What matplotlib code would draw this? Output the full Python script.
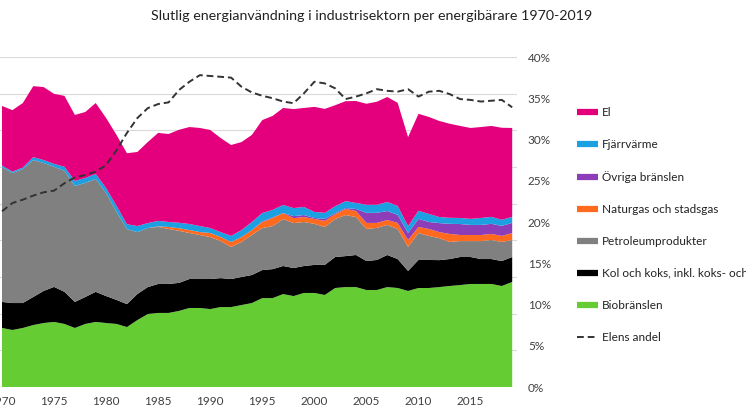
import numpy as np
import matplotlib
matplotlib.use("Agg")
from matplotlib import pyplot as plt
from matplotlib.lines import Line2D
from matplotlib.ticker import FuncFormatter

plt.rcParams['font.family'] = ['Lato', 'DejaVu Sans']

# År 1970-2019
years = np.arange(1970, 2020)

# Slutlig energianvändning per energibärare (TWh)
biobransle = [32.2, 31.1, 32.2, 33.8, 34.9, 35.5, 34.4, 32.2, 34.4, 35.5,
              34.9, 34.4, 32.7, 36.5, 39.8, 40.4, 40.4, 41.5, 43.1, 43.1,
              42.5, 43.6, 43.6, 44.7, 45.8, 48.5, 48.5, 50.7, 49.6, 51.3,
              51.3, 50.2, 54.0, 54.5, 54.5, 52.9, 52.9, 54.5, 54.0, 52.4,
              54.0, 54.0, 54.5, 55.1, 55.6, 56.2, 56.2, 56.2, 55.1, 57.3]
kol = [14.2, 14.7, 13.6, 15.3, 17.5, 19.1, 17.5, 14.2, 14.7, 16.4,
       14.7, 13.1, 12.5, 14.2, 14.7, 15.8, 15.8, 15.3, 15.8, 15.8,
       16.4, 15.8, 15.3, 15.3, 15.3, 15.3, 15.8, 15.3, 15.3, 14.7,
       15.3, 16.4, 16.9, 16.9, 17.5, 15.8, 16.4, 17.5, 15.8, 10.9,
       15.3, 15.3, 14.7, 14.7, 15.3, 14.7, 13.6, 13.6, 13.6, 13.6]
petroleum = [73.6, 70.9, 73.1, 74.7, 69.8, 65.5, 66.0, 63.3, 62.2, 61.6,
             56.2, 48.0, 40.9, 33.8, 32.2, 31.1, 30.0, 28.4, 25.1, 24.0,
             22.9, 20.2, 17.5, 19.1, 21.8, 22.9, 23.5, 25.6, 24.5, 24.0,
             22.4, 20.7, 20.7, 22.4, 20.7, 17.5, 17.5, 16.4, 16.4, 13.1,
             14.7, 13.1, 12.0, 9.3, 8.7, 8.7, 9.8, 10.4, 10.4, 9.3]
naturgas = [0, 0, 0, 0, 0, 0, 0, 0, 0, 0,
            0, 0, 0, 0, 0, 0.3, 1.1, 1.4, 1.6, 1.6,
            2.2, 2.2, 2.7, 2.7, 2.7, 3.3, 4.4, 3.3, 2.7, 2.7,
            2.7, 3.3, 2.7, 3.3, 3.3, 3.3, 2.7, 2.7, 3.3, 3.8,
            3.3, 3.8, 3.3, 4.4, 3.3, 3.3, 3.3, 3.3, 3.3, 3.8]
ovriga = [0, 0, 0, 0, 0, 0, 0, 0, 0, 0,
          0, 0, 0, 0, 0, 0, 0, 0, 0, 0,
          0, 0, 0, 0, 0, 0.3, 0.3, 0, 1.1, 1.1,
          0.5, 1.1, 0.5, 0.5, 1.1, 5.5, 5.5, 4.9, 4.4, 3.8,
          4.4, 3.8, 4.9, 5.5, 6.0, 5.5, 5.5, 5.5, 5.5, 5.5]
fjarrvarme = [0.8, 0.8, 0.8, 1.6, 1.6, 1.6, 2.2, 2.7, 2.7, 2.7,
              2.7, 3.3, 2.7, 3.3, 2.7, 3.0, 2.7, 3.0, 3.3, 3.3,
              2.7, 2.7, 3.3, 3.8, 4.4, 4.6, 4.1, 4.4, 4.4, 4.4,
              3.3, 3.3, 3.8, 3.8, 3.3, 4.4, 4.4, 4.9, 4.9, 3.8,
              4.4, 4.4, 3.3, 3.3, 3.3, 3.3, 3.8, 3.8, 3.3, 3.3]
el = [32.5, 33.5, 35.2, 38.7, 39.8, 38.2, 38.7, 36.0, 36.0, 38.7,
      38.2, 38.7, 38.7, 40.4, 44.2, 48.0, 48.0, 50.7, 52.9, 53.5,
      53.5, 51.3, 49.6, 48.0, 47.5, 50.7, 51.3, 52.9, 54.0, 54.0,
      57.3, 56.7, 55.1, 54.5, 55.6, 55.1, 56.2, 57.3, 56.2, 48.5,
      52.9, 52.9, 52.4, 51.3, 50.2, 49.6, 49.6, 49.6, 50.2, 48.5]

# Elens andel av total användning (%)
elens_andel = [21.3, 22.3, 22.7, 23.2, 23.6, 23.8, 24.7, 25.4, 25.7, 26.1,
               26.9, 28.7, 30.8, 32.6, 33.8, 34.3, 34.5, 36.0, 37.0, 37.8,
               37.7, 37.6, 37.5, 36.4, 35.7, 35.3, 35.0, 34.6, 34.4, 35.6,
               37.0, 36.8, 36.2, 34.9, 35.2, 35.6, 36.1, 35.9, 35.8, 36.1,
               35.2, 35.8, 35.9, 35.5, 34.9, 34.8, 34.6, 34.7, 34.8, 33.9]

series = [biobransle, kol, petroleum, naturgas, ovriga, fjarrvarme, el]
labels = ["Biobränslen", "Kol och koks, inkl. koks- och masugnsgas",
          "Petroleumprodukter", "Naturgas och stadsgas", "Övriga bränslen",
          "Fjärrvärme", "El"]
colors = ["#66CC33", "#000000", "#808080", "#FF6A1F", "#8E3DB8",
          "#1CA0E2", "#E4007C"]

fig = plt.figure(figsize=(7.46, 4.19), dpi=100)
W, H = 746, 419
x_left, x_right = -3.2, 517.4
y_top, y_bot = 57, 387
ax = fig.add_axes([x_left / W, (H - y_bot) / H, (x_right - x_left) / W, (y_bot - y_top) / H])

ax.stackplot(years, *series, colors=colors, linewidth=0)
ax.set_xlim(1969.5, 2019.5)
ax.set_ylim(0, 180)
ax.set_yticks(np.arange(0, 181, 20))
ax.set_axisbelow(True)
ax.grid(axis='y', color='#D9D9D9', linewidth=0.8)
ax.tick_params(axis='y', left=False, labelleft=False)
ax.set_xticks(np.arange(1970, 2016, 5))
ax.tick_params(axis='x', bottom=False, labelsize=8.5, labelcolor='#404040', pad=3)
for s in ax.spines.values():
    s.set_visible(False)

ax2 = ax.twinx()
ax2.plot(years, elens_andel, color='#333333', linewidth=1.4, linestyle=(0, (3.5, 2)))
ax2.set_ylim(0, 40)
ax2.set_yticks(np.arange(0, 41, 5))
ax2.yaxis.set_major_formatter(FuncFormatter(lambda v, p: f"{v:.0f}%"))
ax2.tick_params(axis='y', right=False, labelsize=8.5, labelcolor='#404040', pad=4)
for s in ax2.spines.values():
    s.set_visible(False)

fig.text(372 / W, 1 - 16 / H, "Slutlig energianvändning i industrisektorn per energibärare 1970-2019",
         ha='center', va='center', fontsize=10.3, color='#222222')

# Legend i samma ordning som originalet
handles = [Line2D([0], [0], color=c, linewidth=4.5, solid_capstyle='butt')
           for c in colors[::-1]]
handles.append(Line2D([0], [0], color='#333333', linewidth=1.4, linestyle=(0, (3.5, 2))))
leg_labels = labels[::-1] + ["Elens andel"]
fig.legend(handles, leg_labels, loc='upper left', bbox_to_anchor=(577 / W, 1 - 107 / H),
           frameon=False, fontsize=8.5, handlelength=1.8, handletextpad=0.3,
           labelspacing=1.78, borderpad=0, borderaxespad=0, labelcolor='#222222')

fig.savefig('out.png', dpi=100)
